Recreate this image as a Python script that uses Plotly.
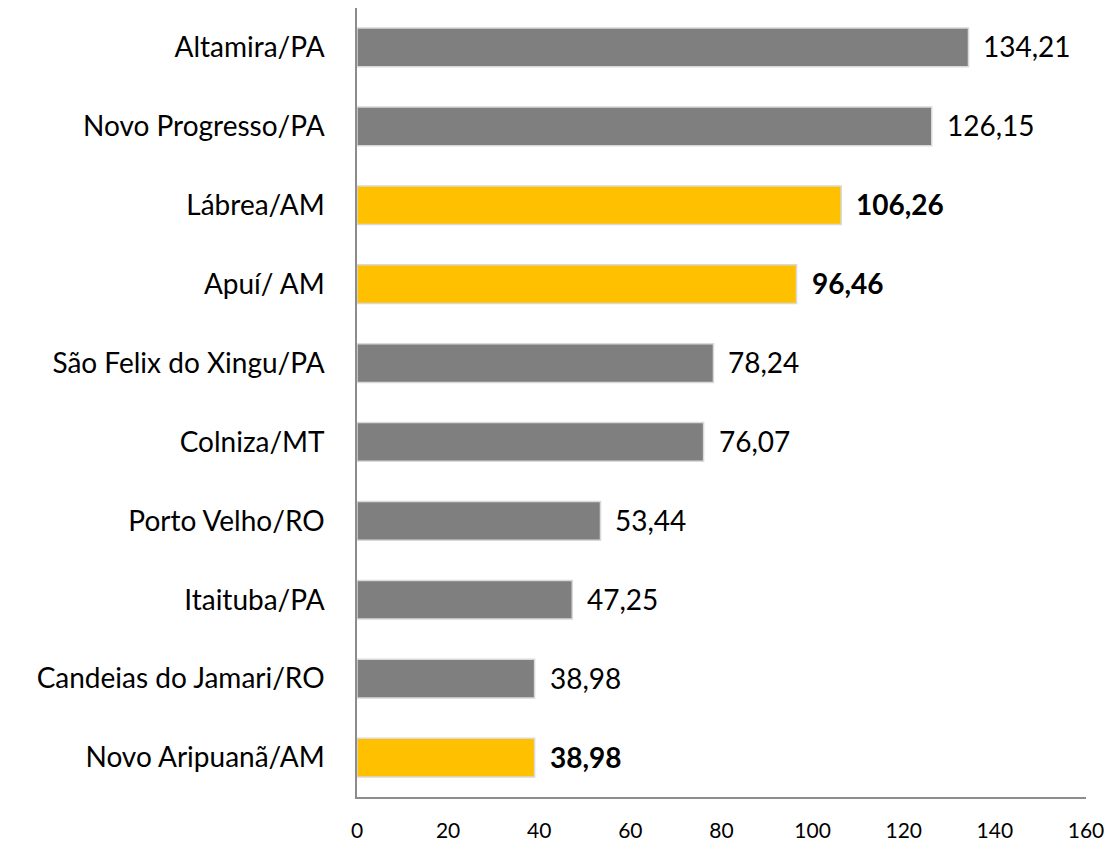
import plotly.graph_objects as go

categories = ["Altamira/PA", "Novo Progresso/PA", "Lábrea/AM", "Apuí/ AM",
              "São Felix do Xingu/PA", "Colniza/MT", "Porto Velho/RO",
              "Itaituba/PA", "Candeias do Jamari/RO", "Novo Aripuanã/AM"]
values = [134.21, 126.15, 106.26, 96.46, 78.24, 76.07, 53.44, 47.25, 38.98, 38.98]
highlight = [False, False, True, True, False, False, False, False, False, True]
tick_vals = [0, 20, 40, 60, 80, 100, 120, 140, 160]

GREY = "#7f7f7f"
GOLD = "#ffc000"
colors = [GOLD if h else GREY for h in highlight]

fig = go.Figure()
fig.add_trace(go.Bar(
    x=values, y=categories, orientation="h",
    marker=dict(color=colors, line=dict(color="#d9d9d9", width=1.5)),
    hoverinfo="skip",
))

for c, v, h in zip(categories, values, highlight):
    label = f"{v:.2f}".replace(".", ",")
    if h:
        label = f"<b>{label}</b>"
    fig.add_annotation(x=v, y=c, text=label, showarrow=False,
                       xanchor="left", yanchor="middle", xshift=13, yshift=1,
                       font=dict(family="Lato", size=28, color="#000000"))

fig.update_layout(
    width=1111, height=834,
    margin=dict(l=349, r=33, t=0, b=42),
    paper_bgcolor="white", plot_bgcolor="white",
    bargap=0.51, showlegend=False,
    font=dict(family="Lato", color="#000000"),
)
fig.update_xaxes(range=[0, 160], tickvals=tick_vals, showgrid=False,
                 zeroline=False, showline=True, linecolor="#8c8c8c", linewidth=1.5,
                 ticks="", tickfont=dict(size=21, family="Lato"), ticklabelstandoff=14)
fig.update_yaxes(categoryorder="array", categoryarray=categories[::-1],
                 showgrid=False, zeroline=False, showline=True,
                 linecolor="#8c8c8c", linewidth=1.5, ticks="",
                 tickfont=dict(size=28, family="Lato"), ticklabelstandoff=25)

fig.write_html("out.html")
